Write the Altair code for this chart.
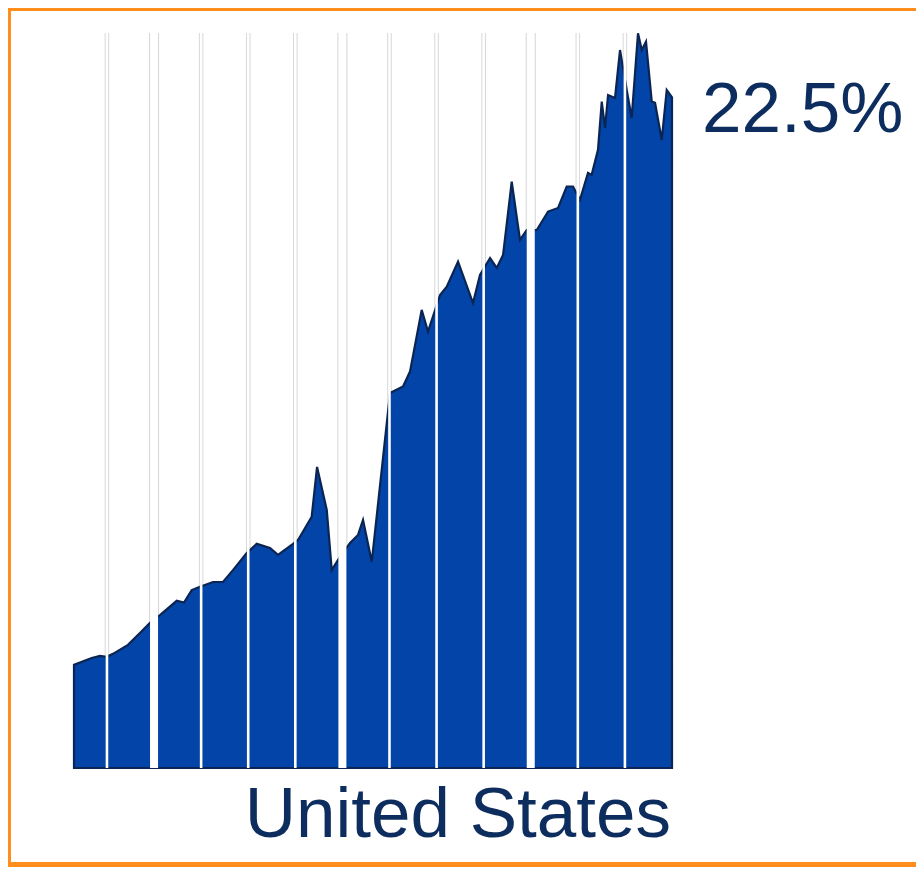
import altair as alt
import pandas as pd

# ---- data ----
years = [1946.5, 1948.38, 1949.26, 1949.97, 1950.64, 1952.23, 1953.5, 1954.57, 1955.63, 1957.41,
         1958.18, 1959.0, 1959.88, 1961.26, 1962.32, 1963.38, 1964.84, 1965.9, 1967.31, 1968.16,
         1969.76, 1970.29, 1971.74, 1972.31, 1973.34, 1973.87, 1974.54, 1975.81, 1976.66, 1977.19,
         1978.12, 1980.06, 1981.44, 1982.18, 1983.42, 1984.09, 1985.37, 1986.08, 1987.28, 1988.87,
         1989.61, 1990.68, 1991.39, 1992.06, 1992.98, 1993.86, 1994.57, 1995.64, 1996.84, 1997.9,
         1998.82, 1999.49, 2000.23, 2001.08, 2001.47, 2002.14, 2002.54, 2002.89, 2003.21, 2003.95,
         2004.48, 2005.19, 2005.72, 2006.39, 2006.79, 2007.24, 2007.85, 2008.2, 2008.91, 2009.44,
         2010.0]
values = [3.46, 3.69, 3.76, 3.73, 3.83, 4.13, 4.53, 4.87, 5.13, 5.61,
          5.55, 5.97, 6.08, 6.24, 6.24, 6.64, 7.21, 7.52, 7.38, 7.15,
          7.52, 7.65, 8.43, 10.10, 8.66, 6.64, 6.98, 7.55, 7.82, 8.32,
          6.92, 12.58, 12.80, 13.30, 15.37, 14.64, 15.87, 16.15, 16.99, 15.60,
          16.54, 17.11, 16.78, 17.21, 19.67, 17.72, 18.05, 18.05, 18.67, 18.79,
          19.51, 19.51, 19.06, 19.97, 19.90, 20.74, 22.36, 21.48, 22.58, 22.48,
          24.09, 22.75, 21.81, 24.65, 24.09, 24.37, 22.36, 22.32, 21.07, 22.75,
          22.5]
grid_years = [1950, 1955, 1960, 1965, 1970, 1975, 1980, 1985, 1990, 1995, 2000, 2005]
country = "United States"

df = pd.DataFrame({"year": years, "value": values})
grid_df = pd.DataFrame({"year": grid_years})
last_df = pd.DataFrame({"year": [years[-1]], "value": [values[-1]],
                        "label": [f"{values[-1]:.1f}%"]})
one = pd.DataFrame({"k": [0]})

W, H = 598, 735
PAD = {"left": 66, "top": 25, "right": 244, "bottom": 99}
TOTAL_W = W + PAD["left"] + PAD["right"]
TOTAL_H = H + PAD["top"] + PAD["bottom"]

xs = alt.Scale(domain=[1946.5, 2010], nice=False, zero=False)
ys = alt.Scale(domain=[0, 24.66], nice=False, zero=True)
X = alt.X("year:Q", scale=xs, axis=None)

wide = "datum.year % 20 == 15"

grid_grey = alt.Chart(grid_df).mark_rule(color="#d6d6d6").encode(
    x=X,
    strokeWidth=alt.condition(wide, alt.value(10), alt.value(4.5)),
)

area = alt.Chart(df).mark_area(
    color="#0344a8", stroke="#0b2552", strokeWidth=2.2, interpolate="linear"
).encode(
    x=X,
    y=alt.Y("value:Q", scale=ys, axis=None),
)

grid_white = alt.Chart(grid_df).mark_rule(color="#ffffff").encode(
    x=X,
    strokeWidth=alt.condition(wide, alt.value(8), alt.value(2.6)),
)

last_label = alt.Chart(last_df).mark_text(
    align="left", baseline="alphabetic", dx=30, dy=35,
    font="Liberation Sans", fontSize=71, color="#0d2d5f",
).encode(
    x=X,
    y=alt.Y("value:Q", scale=ys, axis=None),
    text="label:N",
)

name_label = alt.Chart(one).mark_text(
    align="right", baseline="alphabetic",
    font="Liberation Sans", fontSize=71, color="#0d2d5f", text=country,
).encode(x=alt.value(597), y=alt.value(804))

border_color = "#ff8f1a"
top_b = alt.Chart(one).mark_rule(color=border_color, strokeWidth=3).encode(
    x=alt.value(-PAD["left"]), x2=alt.value(TOTAL_W - PAD["left"]),
    y=alt.value(-PAD["top"] + 1.5))
left_b = alt.Chart(one).mark_rule(color=border_color, strokeWidth=3).encode(
    x=alt.value(-PAD["left"] + 1.5),
    y=alt.value(-PAD["top"]), y2=alt.value(TOTAL_H - PAD["top"]))
bot_b = alt.Chart(one).mark_rule(color=border_color, strokeWidth=5).encode(
    x=alt.value(-PAD["left"]), x2=alt.value(TOTAL_W - PAD["left"]),
    y=alt.value(TOTAL_H - PAD["top"] - 2.5))

chart = alt.layer(
    grid_grey, area, grid_white, last_label, name_label, top_b, left_b, bot_b
).properties(
    width=W, height=H, padding=PAD,
    autosize=alt.AutoSizeParams(type="none"),
    background="#ffffff",
).configure_view(strokeWidth=0)

chart.save("out.html", embed_options={"renderer": "svg", "actions": False})
